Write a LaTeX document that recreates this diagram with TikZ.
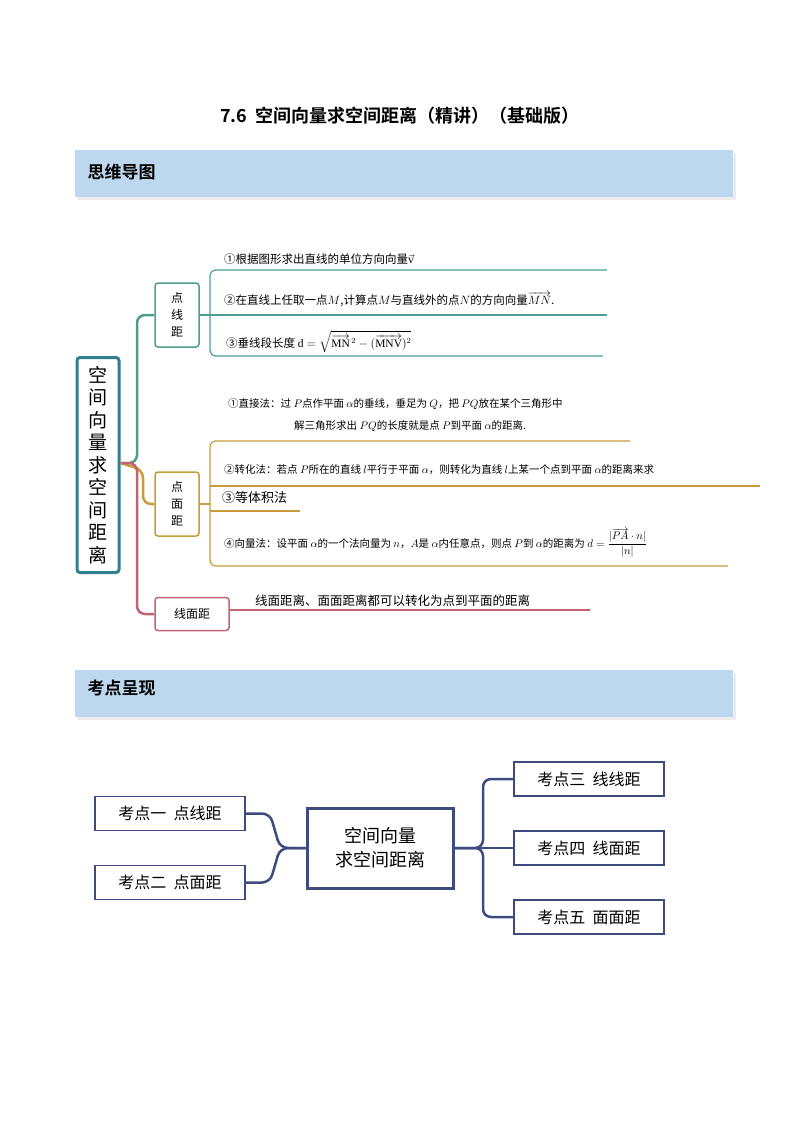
\documentclass[tikz,border=0pt]{standalone}
\usepackage{fontspec}
\usepackage{amsmath}
\setmainfont{Liberation Serif}
\newfontfamily\cjk{Noto Sans CJK SC}
\newfontfamily\cjkb{Noto Sans CJK SC Bold}
\usetikzlibrary{shadows}
\definecolor{band}{HTML}{BDD7EE}
\definecolor{teal1}{HTML}{2F7F8C}
\definecolor{teal2}{HTML}{4E9E90}
\definecolor{gold}{HTML}{C79A3A}
\definecolor{pinkc}{HTML}{C06474}
\definecolor{navy}{HTML}{3E4B7E}
\begin{document}
\begin{tikzpicture}[x=1pt,y=-1pt,
  txt/.style={anchor=west,font=\cjk\fontsize{11.5}{13}\selectfont,inner sep=0pt},
  bandbox/.style={fill=band,draw=none,drop shadow={shadow xshift=3pt,shadow yshift=-3pt,fill=black!15}},
  sub/.style={draw,line width=1.5pt,rounded corners=3pt,fill=white,font=\cjk\fontsize{12}{17}\selectfont,align=center,inner sep=0pt},
  kbox/.style={draw=navy,line width=1.3pt,fill=white,minimum width=150pt,minimum height=34pt,font=\cjk\fontsize{16}{18}\selectfont,inner sep=0pt},
  link/.style={line width=2.5pt,rounded corners=8pt}]
\useasboundingbox (0,0) rectangle (800,1132);
\node (title) at (400,116) {\cjkb\fontsize{18}{20}\selectfont 7.6\ \ 空间向量求空间距离（精讲）（基础版）};
\node[bandbox,minimum width=658pt,minimum height=47pt,inner sep=0pt] (b1) at (404,173.5) {};
\node[anchor=west,font=\cjkb\fontsize{17}{19}\selectfont] (b1t) at (84,172) {思维导图};
\node[bandbox,minimum width=658pt,minimum height=47pt,inner sep=0pt] (b2) at (404,693.5) {};
\node[anchor=west,font=\cjkb\fontsize{17}{19}\selectfont] (b2t) at (84,688) {考点呈现};
% central
\node[draw=teal1,line width=3pt,rounded corners=3pt,minimum width=42pt,minimum height=215pt,align=center,font=\cjk\fontsize{19}{22.5}\selectfont,inner sep=0pt] (c) at (98,465) {空\\间\\向\\量\\求\\空\\间\\距\\离};
% branch boxes
\node[sub,draw=teal2,minimum width=44pt,minimum height=64pt] (p1) at (177,315) {点\\线\\距};
\node[sub,draw=gold,minimum width=44pt,minimum height=64pt] (p2) at (177,504) {点\\面\\距};
\node[sub,draw=pinkc,minimum width=74pt,minimum height=33pt] (p3) at (192,614) {线面距};
\draw[teal2,link] (c.east|-0,463) -- (137,463) -- (137,315) -- (p1.west);
\draw[gold,link] (c.east|-0,463) -- (143,470) -- (143,504) -- (p2.west);
\draw[pinkc,link] (c.east|-0,463) -- (137,463) -- (137,614) -- (p3.west);
% branch 1 lines
\draw[teal2,line width=1.2pt,rounded corners=6pt] (607,270) -- (210,270) -- (210,356) -- (603,356);
\draw[teal2,line width=1.2pt] (p1.east|-0,315) -- (607,315);
\node[txt] (t11) at (224,259) {①根据图形求出直线的单位方向向量$\vec{\mathrm{v}}$};
\node[txt] (t12) at (224,299) {②在直线上任取一点$M$,计算点$M$与直线外的点$N$的方向向量$\overrightarrow{MN}$.};
\node[txt] (t13) at (226,342) {③垂线段长度 $\mathrm{d}=\sqrt{\overrightarrow{\mathrm{MN}}^{\,2}-(\overrightarrow{\mathrm{MNV}})^2}$};
% branch 2 lines
\draw[gold,line width=1.2pt,rounded corners=6pt] (630,441) -- (210,441) -- (210,566) -- (728,566);
\draw[gold,line width=1.2pt,rounded corners=6pt] (760,486) -- (210,486);
\draw[gold,line width=1.2pt,rounded corners=6pt] (300,511) -- (210,511);
\draw[gold,line width=1.2pt] (p2.east) -- (210,504);
\node[txt,font=\cjk\fontsize{10.5}{12}\selectfont] (t21) at (228,404) {①直接法：过 $P$点作平面 $\alpha$的垂线，垂足为 $Q$，把 $PQ$放在某个三角形中};
\node[txt,font=\cjk\fontsize{10.5}{12}\selectfont] (t21b) at (294,426) {解三角形求出 $PQ$的长度就是点 $P$到平面 $\alpha$的距离.};
\node[txt,font=\cjk\fontsize{10.5}{12}\selectfont] (t22) at (224,470) {②转化法：若点 $P$所在的直线 $l$平行于平面 $\alpha$，则转化为直线 $l$上某一个点到平面 $\alpha$的距离来求};
\node[txt,font=\cjk\fontsize{13}{14}\selectfont] (t23) at (222,498) {③等体积法};
\node[txt,font=\cjk\fontsize{10.5}{12}\selectfont] (t24) at (224,543) {④向量法：设平面 $\alpha$的一个法向量为 $n$，$A$是 $\alpha$内任意点，则点 $P$到 $\alpha$的距离为 $d=\dfrac{|\overrightarrow{PA}\cdot n|}{|n|}$};
% branch 3
\draw[pinkc,line width=1.2pt] (p3.east|-0,610) -- (590,610);
\node[txt,font=\cjk\fontsize{12.5}{14}\selectfont] (t31) at (255,601) {线面距离、面面距离都可以转化为点到平面的距离};
% bottom map
\node[draw=navy,line width=3pt,minimum width=146pt,minimum height=80pt,align=center,font=\cjk\fontsize{18}{24}\selectfont,inner sep=0pt] (m) at (380,848) {空间向量\\求空间距离};
\node[kbox] (k1) at (170,813.5) {考点一\ \ 点线距};
\node[kbox] (k2) at (170,882.5) {考点二\ \ 点面距};
\node[kbox] (k3) at (589,779) {考点三\ \ 线线距};
\node[kbox] (k4) at (589,848) {考点四\ \ 线面距};
\node[kbox] (k5) at (589,917) {考点五\ \ 面面距};
\draw[navy,link] (m.west) -- (280,848) -- (270,813.5) -- (k1.east);
\draw[navy,link] (m.west) -- (280,848) -- (270,882.5) -- (k2.east);
\draw[navy,link] (m.east) -- (483,848) -- (483,779) -- (k3.west);
\draw[navy,link] (m.east) -- (k4.west);
\draw[navy,link] (m.east) -- (483,848) -- (483,917) -- (k5.west);
\end{tikzpicture}
\end{document}
